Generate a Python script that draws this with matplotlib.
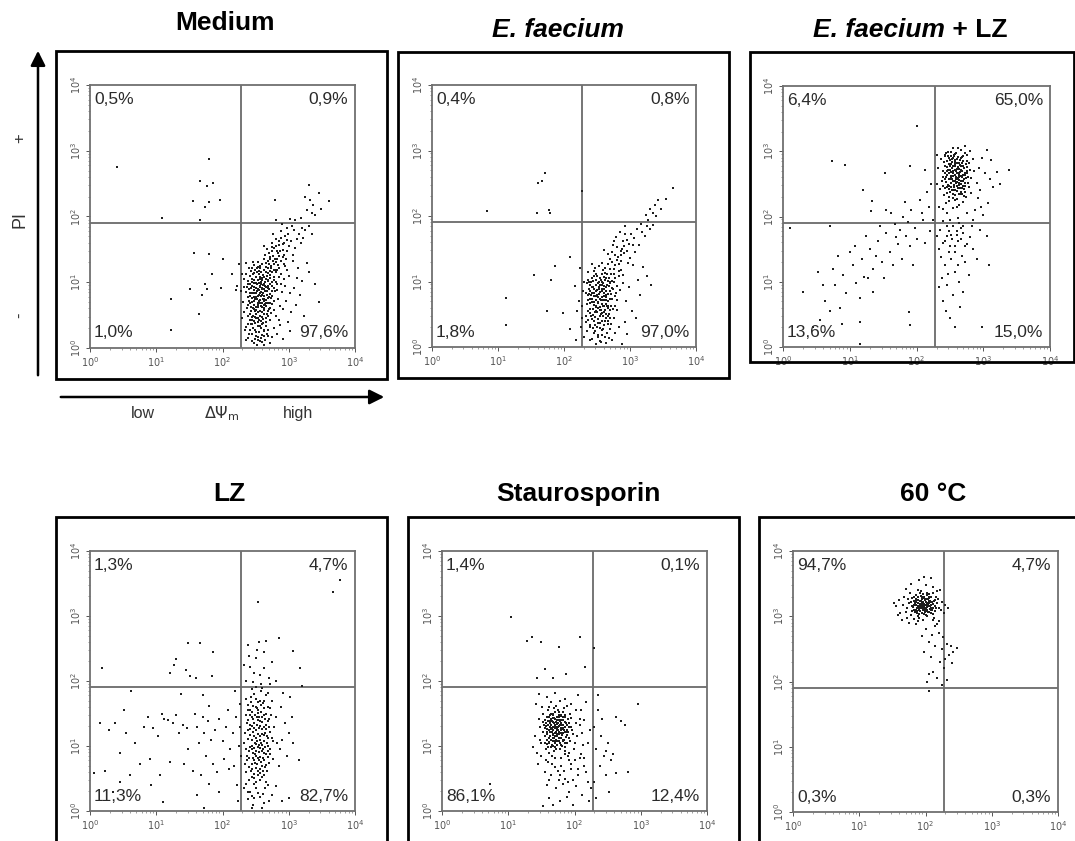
import numpy as np
import matplotlib
matplotlib.use("Agg")
import matplotlib.pyplot as plt
from matplotlib.patches import Rectangle
from matplotlib.ticker import LogLocator, NullFormatter

plt.rcParams['font.family'] = ['Liberation Sans', 'DejaVu Sans']

# quadrant gates (fluorescence units)
gate_x = 190
gate_y = 80

titles = ["Medium", "E. faecium", "E. faecium + LZ", "LZ", "Staurosporin", "60 \u00b0C"]
# quadrant percentages: UL, UR, LL, LR
percents = [
    ["0,5%", "0,9%", "1,0%", "97,6%"],
    ["0,4%", "0,8%", "1,8%", "97,0%"],
    ["6,4%", "65,0%", "13,6%", "15,0%"],
    ["1,3%", "4,7%", "11,3%", "82,7%"],
    ["1,4%", "0,1%", "86,1%", "12,4%"],
    ["94,7%", "4,7%", "0,3%", "0,3%"],
]

# events, (log10 DiOC6, log10 PI)
medium_pts = [
    (2.41,0.52),(2.47,0.88),(2.55,1.12),(2.62,0.71),(2.68,0.95),(2.44,1.05),(2.51,0.63),(2.58,0.41),(2.73,1.21),(2.66,1.30),
    (2.39,0.77),(2.49,1.19),(2.57,0.94),(2.63,0.58),(2.71,0.82),(2.78,1.04),(2.45,0.36),(2.53,0.79),(2.60,1.03),(2.69,0.49),
    (2.42,0.98),(2.50,0.45),(2.56,1.25),(2.64,0.86),(2.75,0.67),(2.81,1.15),(2.37,0.61),(2.48,0.71),(2.59,0.55),(2.67,1.09),
    (2.43,1.17),(2.52,0.97),(2.61,0.83),(2.70,1.27),(2.77,0.92),(2.84,0.74),(2.46,0.48),(2.54,0.66),(2.63,1.18),(2.72,0.61),
    (2.40,0.89),(2.50,1.08),(2.57,0.73),(2.65,0.40),(2.74,1.00),(2.86,1.22),(2.44,0.70),(2.55,0.88),(2.62,1.36),(2.68,0.76),
    (2.38,1.02),(2.47,0.59),(2.58,1.16),(2.66,0.64),(2.76,1.32),(2.82,0.88),(2.45,0.83),(2.53,1.31),(2.60,0.47),(2.71,1.06),
    (2.41,0.42),(2.51,0.92),(2.56,0.57),(2.64,1.01),(2.73,0.53),(2.79,1.18),(2.48,1.26),(2.55,0.99),(2.62,0.66),(2.69,1.14),
    (2.36,0.85),(2.46,1.12),(2.59,0.81),(2.67,0.52),(2.75,0.79),(2.88,0.98),(2.43,0.57),(2.52,0.74),(2.61,0.96),(2.70,0.89),
    (2.49,0.38),(2.57,1.05),(2.65,1.23),(2.78,0.58),(2.85,1.08),(2.40,1.21),(2.54,0.46),(2.63,0.74),(2.72,1.38),(2.58,0.64),
    (2.42,0.28),(2.51,0.19),(2.58,0.31),(2.64,0.12),(2.47,0.07),(2.55,0.24),(2.62,0.05),(2.69,0.27),(2.74,0.16),(2.39,0.15),
    (2.53,0.33),(2.60,0.20),(2.66,0.34),(2.45,0.22),(2.57,0.10),(2.71,0.08),(2.78,0.30),(2.49,0.13),(2.82,0.21),(2.36,0.32),
    (2.63,0.26),(2.52,0.04),(2.68,0.18),(2.44,0.11),(2.59,0.36),(2.87,0.35),(2.92,0.14),(3.02,0.26),
    (2.70,1.45),(2.78,1.52),(2.85,1.40),(2.91,1.58),(2.80,1.66),(2.95,1.70),(3.03,1.62),(2.88,1.78),(3.08,1.80),(3.15,1.74),
    (2.74,1.60),(2.83,1.35),(2.97,1.48),(3.05,1.86),(3.20,1.83),(2.67,1.50),(2.93,1.42),(3.00,1.55),(3.12,1.66),(2.86,1.62),
    (2.76,1.74),(3.25,1.79),(2.98,1.83),(3.10,1.52),(2.64,1.41),(2.90,1.88),(3.18,1.60),(2.82,1.47),(3.30,1.86),(2.72,1.36),
    (2.96,1.35),(3.07,1.42),(3.22,1.68),(2.62,1.55),(2.89,1.68),(3.35,1.74),
    (2.93,1.28),(3.01,1.10),(3.08,0.92),(2.96,0.72),(3.14,1.22),(3.04,0.55),(3.20,1.02),(2.99,0.40),(3.11,0.66),(3.27,1.30),
    (2.94,0.95),(3.06,1.33),(3.17,0.80),(3.31,1.15),(2.91,0.60),(3.23,0.48),(3.02,0.83),(3.40,0.98),(3.13,1.07),(2.97,1.19),
    (3.45,0.70),
    (2.30,0.45),(2.33,0.93),(2.29,1.12),(2.34,0.27),(2.31,0.70),(2.35,1.30),(2.32,0.55),(2.28,0.86),(2.35,0.12),(2.33,1.05),
    (2.25,1.28),(2.22,0.95),
    (2.79,2.25),(3.31,2.48),(3.45,2.36),(3.32,2.25),(3.37,2.17),(3.60,2.23),(3.27,2.10),(3.40,2.02),(3.18,1.98),(3.48,2.12),
    (3.10,1.95),(3.35,2.05),(2.80,1.94),(3.02,1.96),(3.24,2.30),
    (0.40,2.76),(1.79,2.87),(1.66,2.54),(1.76,2.46),(1.85,2.51),(1.56,2.23),(1.74,2.15),(1.79,2.22),(1.96,2.25),(1.66,1.94),
    (1.08,1.97),(1.57,1.44),(1.80,1.43),(2.01,1.36),(1.84,1.12),(2.14,1.12),(1.51,0.90),(1.77,0.90),(1.97,0.92),(1.69,0.80),
    (1.23,0.75),(1.65,0.52),(1.22,0.27),(2.21,0.88),(1.74,0.98),
]
medium_core = [
    (2.44,0.76),(2.52,0.86),(2.59,0.69),(2.65,0.93),(2.48,0.99),(2.39,0.66),(2.57,1.21),(2.61,0.44),(2.69,0.68),(2.46,1.31),
    (2.53,0.54),(2.71,0.97),(2.36,1.12),(2.55,0.72),(2.63,0.89),(2.50,0.83),(2.58,0.97),(2.43,0.63),(2.66,1.15),(2.74,0.87),
    (2.41,1.09),(2.49,0.56),(2.56,1.08),(2.62,0.51),(2.68,1.02),(2.77,0.71),(2.45,0.94),(2.54,0.62),(2.60,1.27),(2.67,0.81),
    (2.38,0.49),(2.47,1.03),(2.59,0.89),(2.64,0.67),(2.72,1.11),(2.51,0.77),(2.57,0.49),(2.42,0.84),(2.70,0.59),(2.81,1.01),
    (2.46,0.31),(2.55,0.43),(2.62,0.27),(2.50,0.24),(2.58,0.15),(2.44,0.42),(2.67,0.21),(2.39,0.37),(2.53,0.12),(2.61,0.38),
    (2.48,0.66),(2.56,0.93),(2.63,1.08),(2.69,0.92),(2.40,0.72),(2.52,1.16),(2.65,0.73),(2.75,1.16),(2.44,1.22),(2.58,0.79),
    (2.47,0.83),(2.54,1.04),(2.60,0.62),(2.73,0.76),(2.37,0.93),(2.49,0.47),(2.62,0.97),(2.68,0.56),(2.79,0.87),(2.55,0.81),
    (2.76,1.40),(2.84,1.26),(2.80,1.55),(2.88,1.33),(2.92,1.49),(2.69,1.33),(2.74,1.48),(2.86,1.57),(2.98,1.64),(2.94,1.24),
    (2.82,1.19),(2.89,1.12),(2.77,1.27),(2.83,0.97),(2.90,0.85),(2.87,0.64),(2.80,0.49),(2.93,1.05),(2.71,0.43),(2.85,0.42),
]
medium_dense = [
    (2.43,0.91),(2.49,0.74),(2.54,0.89),(2.61,1.11),(2.67,0.87),(2.46,0.61),(2.52,1.21),(2.58,0.85),(2.64,0.94),(2.71,1.17),
    (2.41,0.79),(2.47,1.14),(2.56,0.68),(2.62,0.79),(2.69,1.04),(2.44,0.47),(2.51,0.58),(2.59,1.07),(2.66,0.69),(2.74,0.95),
    (2.39,0.98),(2.48,0.93),(2.55,1.17),(2.63,0.61),(2.70,0.78),(2.45,1.01),(2.53,0.69),(2.60,0.91),(2.68,1.22),(2.77,1.08),
    (2.42,0.68),(2.50,0.99),(2.57,0.83),(2.65,1.05),(2.72,0.68),(2.47,0.78),(2.54,1.23),(2.61,0.75),(2.58,1.01),(2.51,0.51),
    (2.43,0.36),(2.49,0.27),(2.56,0.33),(2.63,0.19),(2.40,0.22),(2.54,0.17),(2.60,0.09),(2.47,0.41),(2.66,0.46),(2.53,0.39),
    (2.73,1.25),(2.79,1.36),(2.84,1.45),(2.81,1.31),(2.75,1.53),(2.87,1.48),(2.93,1.60),(2.78,1.19),(2.91,1.38),(2.99,1.73),
]

faecium_pts = [
    (2.36,0.72),(2.42,1.05),(2.48,0.55),(2.53,0.91),(2.59,1.18),(2.64,0.66),(2.70,0.98),(2.45,0.83),(2.51,0.42),(2.57,0.77),
    (2.62,1.02),(2.68,0.51),(2.75,1.12),(2.39,0.95),(2.47,1.20),(2.55,0.61),(2.60,0.88),(2.66,1.26),(2.73,0.74),(2.80,0.93),
    (2.34,0.48),(2.43,0.68),(2.50,1.09),(2.58,0.39),(2.63,0.80),(2.71,0.62),(2.78,1.25),(2.40,0.58),(2.49,0.86),(2.56,1.02),
    (2.61,0.53),(2.69,0.85),(2.76,0.45),(2.83,1.08),(2.37,1.14),(2.46,0.40),(2.54,0.74),(2.65,0.95),(2.72,1.30),(2.44,0.92),
    (2.52,0.60),(2.59,0.97),(2.67,0.70),(2.74,0.89),(2.38,0.81),(2.48,1.02),(2.56,0.50),(2.62,1.13),(2.70,0.57),(2.81,0.72),
    (2.41,0.47),(2.53,1.24),(2.60,0.71),(2.68,1.06),(2.77,0.63),(2.35,0.97),(2.45,0.64),(2.57,0.89),(2.64,0.44),(2.73,1.01),
    (2.50,0.79),(2.58,1.28),(2.66,0.59),(2.43,1.27),(2.55,0.36),(2.63,0.92),(2.79,0.82),(2.86,1.18),(2.40,0.73),(2.69,1.19),
    (2.35,0.25),(2.42,0.12),(2.50,0.30),(2.57,0.18),(2.63,0.06),(2.70,0.27),(2.46,0.21),(2.54,0.09),(2.61,0.33),(2.68,0.14),
    (2.77,0.22),(2.39,0.34),(2.48,0.04),(2.58,0.26),(2.66,0.35),(2.73,0.10),(2.84,0.30),(2.31,0.15),(2.95,0.20),(2.52,0.16),
    (2.88,0.05),
    (2.66,1.42),(2.74,1.55),(2.82,1.38),(2.88,1.50),(2.95,1.63),(2.79,1.68),(3.02,1.72),(3.10,1.80),(3.18,1.76),(3.25,1.85),
    (2.70,1.35),(2.91,1.44),(2.99,1.58),(3.06,1.66),(3.14,1.55),(2.85,1.76),(3.22,1.70),(2.61,1.48),(2.93,1.84),(3.30,1.80),
    (3.08,1.45),(2.76,1.62),(3.00,1.36),(3.17,1.88),(2.87,1.32),(3.35,1.86),
    (2.90,1.10),(2.98,0.92),(3.05,1.25),(2.94,0.70),(3.12,1.03),(3.20,1.22),(3.03,0.55),(2.92,0.38),(3.15,0.80),(3.26,1.08),
    (3.09,0.45),(2.97,1.28),(3.32,0.95),
    (2.28,0.62),(2.30,1.00),(2.26,0.30),(2.29,0.85),(2.24,1.20),(2.27,0.45),(2.22,0.70),(2.18,0.10),(2.20,0.55),
    (3.65,2.42),(3.30,2.11),(3.38,2.17),(3.43,2.24),(3.47,2.10),(3.54,2.26),(3.24,2.01),(3.35,2.05),(3.40,2.00),(3.28,1.94),
    (0.83,2.07),(1.71,2.66),(1.66,2.53),(1.60,2.50),(1.59,2.05),(1.78,2.09),(1.79,2.05),(2.27,2.38),(1.54,1.10),(1.86,1.23),
    (1.81,1.03),(2.09,1.37),(1.12,0.75),(1.12,0.33),(1.74,0.55),(1.98,0.52),(2.09,0.28),(2.17,0.93),
]
faecium_core = [
    (2.38,0.88),(2.44,0.58),(2.51,0.97),(2.57,0.65),(2.63,0.86),(2.69,0.73),(2.46,1.08),(2.53,0.81),(2.59,0.47),(2.66,1.01),
    (2.35,0.66),(2.41,0.99),(2.48,0.71),(2.55,0.94),(2.61,0.62),(2.72,0.90),(2.43,0.82),(2.50,0.53),(2.58,1.12),(2.64,0.76),
    (2.37,0.41),(2.45,1.16),(2.52,0.67),(2.60,0.82),(2.67,0.48),(2.75,0.99),(2.40,0.86),(2.49,0.95),(2.56,0.56),(2.62,1.21),
    (2.33,0.83),(2.47,0.46),(2.54,1.05),(2.65,0.63),(2.71,1.11),(2.42,0.74),(2.59,0.72),(2.68,0.93),(2.36,1.03),(2.53,0.88),
    (2.44,0.29),(2.51,0.19),(2.59,0.27),(2.65,0.22),(2.40,0.11),(2.56,0.08),(2.62,0.40),(2.47,0.33),(2.71,0.35),(2.34,0.38),
    (2.78,1.40),(2.84,1.27),(2.90,1.62),(2.81,1.52),(2.96,1.47),(2.73,1.45),(2.87,1.41),(2.93,1.72),(3.04,1.56),(2.83,1.16),
    (2.77,0.78),(2.85,0.87),(2.80,0.56),(2.89,0.98),(2.74,0.58),(2.45,0.78),(2.57,1.00),(2.48,0.61),(2.63,1.05),(2.39,0.52),
]
faecium_dense = [
    (2.39,0.67),(2.45,0.88),(2.51,0.69),(2.57,0.94),(2.63,0.71),(2.42,0.91),(2.48,0.63),(2.54,0.84),(2.60,1.07),(2.66,0.81),
    (2.37,0.55),(2.44,1.01),(2.50,0.87),(2.56,0.71),(2.62,0.57),(2.69,0.99),(2.41,0.79),(2.47,0.53),(2.53,0.99),(2.59,0.62),
    (2.65,1.12),(2.38,0.99),(2.46,0.69),(2.52,0.77),(2.58,0.85),(2.64,0.51),(2.71,0.81),(2.43,0.43),(2.49,1.12),(2.55,0.48),
    (2.61,0.93),(2.67,0.62),(2.36,0.79),(2.48,0.78),(2.54,0.57),(2.60,0.78),(2.44,0.49),(2.51,0.36),(2.58,0.52),(2.66,0.39),
    (2.40,0.31),(2.47,0.24),(2.55,0.29),(2.62,0.16),(2.69,0.45),(2.75,1.19),(2.80,1.33),(2.86,1.47),(2.78,1.05),(2.91,1.54),
]

faecium_lz_pts = [
    (2.42,2.95),(2.48,2.80),(2.55,2.62),(2.61,2.88),(2.67,2.71),(2.73,2.52),(2.45,2.45),(2.52,2.99),(2.58,2.40),(2.64,2.56),
    (2.70,2.93),(2.76,2.67),(2.40,2.70),(2.50,2.58),(2.57,2.84),(2.63,2.35),(2.69,2.47),(2.79,2.82),(2.44,2.20),(2.53,2.74),
    (2.60,2.66),(2.66,3.02),(2.72,2.38),(2.82,2.59),(2.38,2.55),(2.47,2.92),(2.56,2.49),(2.62,2.76),(2.68,2.60),(2.75,2.85),
    (2.41,2.33),(2.51,2.68),(2.59,2.98),(2.65,2.43),(2.71,2.74),(2.86,2.70),(2.46,2.63),(2.54,2.28),(2.61,2.53),(2.67,2.90),
    (2.74,2.30),(2.36,2.88),(2.49,2.42),(2.57,2.72),(2.63,2.64),(2.70,2.54),(2.78,2.45),(2.43,2.78),(2.52,2.51),(2.58,2.86),
    (2.66,2.34),(2.73,2.97),(2.84,2.88),(2.39,2.12),(2.48,2.30),(2.55,2.78),(2.62,3.05),(2.69,2.22),(2.77,2.60),(2.90,2.52),
    (2.44,2.97),(2.53,2.40),(2.60,2.14),(2.68,2.82),(2.75,2.70),(2.35,2.42),(2.50,2.86),(2.59,2.57),(2.65,2.68),(2.81,2.36),
    (2.46,2.05),(2.56,2.94),(2.64,2.18),(2.71,2.63),(2.93,2.75),(2.40,2.60),(2.57,2.25),(2.67,2.50),(2.80,3.00),(2.32,2.75),
    (2.95,2.40),(3.02,2.66),(3.10,2.58),(2.98,2.90),(3.07,2.20),(3.20,2.68),(3.38,2.72),(2.88,2.10),(3.00,2.02),(2.85,1.95),
    (2.92,2.28),(3.15,2.45),(3.05,3.02),(2.30,2.95),(2.33,2.15),(2.31,2.50),(2.72,3.08),(2.55,3.05),(3.25,2.50),(2.97,2.15),
    (2.62,1.98),(2.50,1.95),(2.76,2.05),(2.40,1.93),(3.12,2.86),
    (2.35,1.80),(2.45,1.70),(2.55,1.85),(2.62,1.62),(2.50,1.55),(2.70,1.75),(2.40,1.60),(2.58,1.45),(2.66,1.82),(2.75,1.58),
    (2.48,1.78),(2.33,1.50),(2.60,1.72),(2.80,1.68),(2.52,1.35),(2.42,1.25),(2.68,1.40),(2.38,1.05),(2.57,1.15),(2.73,1.30),
    (2.46,0.95),(2.63,1.00),(2.85,1.50),(2.30,1.70),(2.55,0.80),(2.40,0.70),(2.65,0.62),(2.50,0.45),(2.58,0.30),(2.70,0.85),
    (2.90,1.35),(3.05,1.70),(3.08,1.25),(2.95,1.80),(2.36,1.38),(2.78,1.10),(2.44,0.55),(2.62,1.25),(2.53,1.65),(2.72,1.55),
    (2.83,1.85),(2.47,1.12),(2.34,0.92),
    (0.55,0.42),(0.63,0.70),(0.70,0.55),(0.78,0.95),(0.85,0.60),(0.90,1.10),(0.95,0.82),(1.05,1.25),(1.10,0.98),(1.18,1.35),
    (1.22,1.08),(1.30,1.50),(1.35,1.20),(1.42,1.62),(1.48,1.30),(1.55,1.75),(1.60,1.45),(1.68,1.88),(1.72,1.58),(1.80,2.00),
    (1.85,1.70),(1.92,2.10),(1.98,1.82),(2.05,2.25),(2.10,1.95),(2.15,2.38),(2.20,1.78),(0.45,0.30),(0.60,0.95),(0.75,1.20),
    (0.88,0.35),(1.00,1.45),(1.15,0.75),(1.28,1.05),(1.40,1.40),(1.52,1.05),(1.65,1.25),(1.75,1.80),(1.90,1.55),(2.00,1.65),
    (2.12,1.60),(1.62,2.05),(1.45,1.85),(1.78,1.35),(1.88,1.92),(2.18,2.15),(1.25,1.70),(1.08,1.55),(0.82,1.40),(0.70,1.85),
    (0.30,0.85),(0.52,1.15),(1.95,1.25),(2.08,2.05),(1.70,1.68),(1.35,0.85),(2.22,2.50),(1.55,2.10),(1.83,2.22),(2.25,1.95),
    (0.73,2.85),(0.93,2.79),(2.00,3.38),(1.90,2.77),(1.53,2.67),(2.13,2.72),(1.20,2.41),(1.33,2.23),(1.32,2.08),(0.11,1.82),
    (1.15,0.05),(1.16,0.38),(1.90,0.33),(1.89,0.54),(2.98,0.31),
]
faecium_lz_core = [
    (2.47,2.72),(2.53,2.88),(2.59,2.61),(2.65,2.79),(2.71,2.58),(2.44,2.53),(2.50,2.77),(2.56,2.93),(2.62,2.44),(2.68,2.69),
    (2.74,2.80),(2.41,2.84),(2.49,2.46),(2.55,2.66),(2.61,2.82),(2.67,2.38),(2.73,2.63),(2.45,2.36),(2.52,2.60),(2.58,2.77),
    (2.64,2.51),(2.70,2.85),(2.77,2.52),(2.43,2.66),(2.51,2.93),(2.57,2.55),(2.63,2.73),(2.69,2.93),(2.48,2.23),(2.55,2.41),
    (2.61,2.27),(2.67,2.62),(2.39,2.47),(2.46,2.85),(2.54,2.70),(2.60,2.47),(2.66,2.77),(2.72,2.46),(2.80,2.72),(2.58,2.33),
    (2.42,2.58),(2.50,2.37),(2.62,2.91),(2.68,2.44),(2.76,2.94),(2.53,2.57),(2.47,2.99),(2.64,2.60),(2.59,2.69),(2.71,2.31),
    (2.55,2.13),(2.45,1.85),(2.60,1.78),(2.52,1.72),(2.66,1.66),(2.42,1.62),(2.57,1.55),(2.70,1.85),(2.49,1.45),(2.63,1.90),
]
faecium_lz_dense = [
    (2.45,2.76),(2.51,2.62),(2.57,2.81),(2.63,2.67),(2.69,2.78),(2.48,2.89),(2.54,2.54),(2.60,2.73),(2.66,2.55),(2.72,2.66),
    (2.44,2.61),(2.50,2.71),(2.56,2.45),(2.62,2.59),(2.68,2.91),(2.47,2.48),(2.53,2.83),(2.59,2.51),(2.65,2.86),(2.71,2.42),
    (2.42,2.92),(2.49,2.57),(2.55,2.89),(2.61,2.39),(2.67,2.71),(2.74,2.59),(2.46,2.69),(2.52,2.45),(2.58,2.64),(2.64,2.82),
    (2.70,2.64),(2.43,2.43),(2.57,2.96),(2.63,2.49),(2.76,2.76),(2.51,2.81),(2.60,2.58),(2.54,2.35),(2.68,2.34),(2.48,2.66),
]

lz_pts = [
    (2.35,1.72),(2.42,1.55),(2.48,1.80),(2.55,1.45),(2.61,1.66),(2.68,1.38),(2.38,1.25),(2.45,1.10),(2.52,1.32),(2.58,1.05),
    (2.64,1.20),(2.71,1.58),(2.40,0.92),(2.47,0.78),(2.53,0.98),(2.60,0.70),(2.66,0.88),(2.74,1.12),(2.36,0.60),(2.44,0.52),
    (2.50,0.66),(2.57,0.83),(2.63,0.55),(2.70,0.74),(2.39,1.40),(2.46,1.62),(2.54,1.18),(2.62,1.48),(2.69,1.00),(2.78,1.30),
    (2.33,1.05),(2.41,1.33),(2.49,1.48),(2.56,1.70),(2.65,1.78),(2.72,0.95),(2.37,0.78),(2.44,1.00),(2.51,0.85),(2.59,1.26),
    (2.67,0.62),(2.80,1.45),(2.43,1.75),(2.52,1.58),(2.60,1.90),(2.68,1.60),(2.34,1.20),(2.48,1.15),(2.57,0.58),(2.64,0.98),
    (2.76,0.80),(2.40,0.68),(2.55,1.02),(2.62,1.30),(2.71,1.22),(2.46,0.90),(2.53,1.40),(2.59,0.92),(2.66,1.50),(2.83,1.05),
    (2.38,1.55),(2.50,1.25),(2.58,1.52),(2.74,1.70),(2.44,0.64),(2.61,0.82),(2.36,0.95),(2.52,0.72),(2.69,1.12),(2.47,1.35),
    (2.35,0.42),(2.42,0.30),(2.50,0.45),(2.57,0.22),(2.64,0.35),(2.70,0.15),(2.46,0.10),(2.53,0.28),(2.60,0.05),(2.38,0.18),
    (2.68,0.40),(2.75,0.25),(2.32,0.35),(2.56,0.48),(2.48,0.20),(2.62,0.13),(2.80,0.38),(2.44,0.04),(2.90,0.15),(3.00,0.20),
    (2.88,1.60),(2.95,1.35),(3.02,1.75),(2.90,1.10),(3.05,1.45),(2.97,0.85),(2.86,0.70),(3.07,1.05),(2.92,1.82),(3.00,1.20),
    (2.87,0.95),(3.15,0.78),
    (2.20,1.45),(2.25,1.00),(2.18,0.70),(2.27,1.65),(2.22,0.40),(2.16,1.20),(2.28,0.85),(2.24,0.15),(2.19,1.85),(2.26,1.30),
    (2.35,2.00),(2.42,2.22),(2.50,2.35),(2.57,2.10),(2.63,2.45),(2.70,2.05),(2.38,2.55),(2.46,1.98),(2.55,2.60),(2.62,2.20),
    (2.75,2.30),(2.48,2.12),(2.66,2.62),(2.58,1.95),(2.40,2.38),(2.80,2.00),(2.52,2.48),(2.86,2.66),(3.07,2.46),(3.17,2.20),
    (2.54,3.22),(3.67,3.37),(3.78,3.55),(2.33,2.25),(2.72,1.96),(3.20,1.93),
    (0.18,2.20),(1.48,2.58),(1.66,2.58),(1.85,2.44),(1.30,2.34),(1.27,2.24),(1.21,2.12),(1.45,2.17),(1.51,2.08),(1.60,2.05),
    (1.84,2.08),
    (0.06,0.58),(0.22,0.62),(0.35,0.30),(0.28,1.25),(0.38,1.35),(0.45,0.90),(0.52,1.55),(0.60,0.55),(0.55,1.20),(0.68,1.05),
    (0.75,0.72),(0.82,1.30),(0.88,1.45),(0.95,1.28),(1.02,1.15),(1.08,1.50),(1.12,1.42),(1.18,1.40),(1.25,1.36),(1.30,1.48),
    (1.35,1.20),(1.40,1.32),(1.46,1.28),(1.20,0.75),(1.05,0.55),(0.90,0.80),(1.48,0.95),(1.42,0.72),(0.92,0.40),(1.10,0.14),
    (1.58,1.50),(1.62,1.30),(1.70,1.45),(1.72,1.20),(1.78,1.38),(1.82,1.10),(1.88,1.25),(1.95,1.42),(2.00,1.08),(2.05,1.30),
    (1.65,1.05),(1.75,0.85),(1.85,0.72),(1.92,0.60),(2.02,0.80),(2.10,0.65),(1.68,0.55),(1.80,0.42),(1.62,0.25),(1.95,0.30),
    (2.08,1.55),(1.70,1.78),(1.38,1.80),(1.80,1.62),(2.12,0.95),(1.55,0.62),(0.45,0.45),(0.15,1.35),(0.62,1.85),(1.72,0.05),
]
lz_core = [
    (2.39,1.63),(2.45,1.44),(2.51,1.72),(2.57,1.38),(2.63,1.59),(2.70,1.30),(2.42,1.17),(2.49,1.05),(2.55,1.27),(2.61,0.96),
    (2.67,1.16),(2.37,0.85),(2.44,0.73),(2.50,0.93),(2.56,0.64),(2.62,0.78),(2.71,0.87),(2.40,0.47),(2.47,0.57),(2.53,0.82),
    (2.59,0.53),(2.66,0.71),(2.36,1.47),(2.43,1.68),(2.54,1.55),(2.60,1.37),(2.68,1.81),(2.46,1.22),(2.52,1.08),(2.58,0.76),
    (2.64,1.42),(2.73,1.47),(2.41,0.99),(2.48,0.42),(2.57,1.15),(2.65,0.44),(2.38,0.30),(2.51,0.35),(2.61,0.26),(2.45,0.23),
    (2.54,0.61),(2.62,1.07),(2.69,0.83),(2.44,1.31),(2.50,1.60),(2.58,1.85),(2.76,1.08),(2.34,0.72),(2.47,0.97),(2.55,0.91),
]
lz_dense = [
    (2.41,1.48),(2.47,1.27),(2.53,1.51),(2.59,1.19),(2.65,1.33),(2.44,0.95),(2.50,1.13),(2.56,0.97),(2.62,1.17),(2.68,0.93),
    (2.39,1.11),(2.46,0.81),(2.52,1.45),(2.58,1.63),(2.64,0.67),(2.43,0.61),(2.49,0.74),(2.55,0.79),(2.61,0.61),(2.70,1.41),
    (2.37,1.36),(2.45,1.53),(2.51,1.03),(2.57,1.31),(2.63,0.89),(2.40,0.82),(2.48,0.51),(2.54,1.67),(2.60,1.02),(2.66,1.26),
    (2.42,1.26),(2.56,1.10),(2.49,0.87),(2.62,1.70),(2.53,0.55),(2.46,1.41),(2.59,1.45),(2.44,1.87),(2.51,1.91),(2.67,1.04),
]

stauro_pts = [
    (1.55,1.40),(1.62,1.25),(1.68,1.48),(1.74,1.15),(1.80,1.35),(1.86,1.05),(1.58,1.10),(1.65,0.98),(1.71,1.30),(1.77,1.52),
    (1.83,1.20),(1.90,1.42),(1.60,1.55),(1.67,1.18),(1.73,1.02),(1.79,1.28),(1.85,1.45),(1.92,1.12),(1.52,1.22),(1.63,1.35),
    (1.69,0.92),(1.76,1.40),(1.82,1.10),(1.95,1.30),(1.57,0.95),(1.64,1.50),(1.70,1.20),(1.78,0.96),(1.84,1.58),(1.88,1.25),
    (1.54,1.32),(1.61,1.05),(1.66,1.38),(1.72,1.62),(1.81,1.00),(1.98,1.18),(1.59,1.45),(1.68,1.08),(1.75,1.25),(1.87,1.35),
    (1.50,1.05),(1.62,1.60),(1.71,1.42),(1.79,1.12),(1.93,1.50),(1.56,1.28),(1.66,1.22),(1.74,1.34),(1.83,1.40),(2.00,1.05),
    (1.63,1.15),(1.70,1.05),(1.76,1.22),(1.67,1.30),(1.73,1.45),(1.60,1.32),(1.80,1.48),(1.69,1.58),(1.58,1.18),(1.85,0.98),
    (1.65,1.42),(1.72,1.10),(1.78,1.38),(1.62,0.90),(1.90,1.22),(1.53,1.50),(2.03,1.35),(1.75,1.55),(1.82,1.28),(1.68,1.00),
    (1.50,0.85),(1.60,0.75),(1.70,0.82),(1.80,0.70),(1.90,0.85),(2.00,0.78),(2.10,0.88),(1.55,0.60),(1.65,0.55),(1.75,0.62),
    (1.85,0.50),(1.95,0.65),(2.05,0.55),(2.15,0.70),(1.58,0.40),(1.72,0.35),(1.82,0.42),(1.92,0.30),(2.02,0.38),(2.20,0.45),
    (1.62,0.20),(1.78,0.15),(1.88,0.22),(1.98,0.10),(2.12,0.25),(1.52,0.08),(1.68,0.10),(2.22,0.15),(1.45,0.72),(2.08,0.82),
    (1.85,0.88),(1.97,0.48),(1.66,0.72),(2.18,0.60),(1.76,0.48),(1.92,0.78),(2.25,0.35),(1.43,0.90),
    (1.42,1.65),(1.48,1.30),(1.40,1.15),(1.38,0.98),(1.58,1.75),(1.70,1.82),(1.85,1.72),(1.95,1.65),(2.05,1.78),(2.10,1.55),
    (2.12,1.20),(2.15,1.40),(2.20,1.05),(2.18,1.68),(1.47,1.80),(2.08,1.32),(2.24,1.25),(1.78,1.70),
    (2.30,1.30),(2.32,0.95),(2.35,1.55),(2.38,0.70),(2.40,1.15),(2.45,0.85),(2.30,0.45),(2.33,0.20),(2.42,1.42),(2.50,1.05),
    (2.55,0.78),(2.48,0.55),(2.58,0.88),(2.63,0.58),(2.81,0.60),(2.63,1.45),(2.76,1.32),(2.96,1.65),(2.48,0.93),(2.36,1.78),
    (2.52,0.30),(2.70,1.38),
    (1.04,2.98),(1.29,2.62),(1.36,2.67),(1.49,2.60),(1.76,2.52),(2.08,2.67),(2.29,2.51),(1.55,2.19),(1.43,2.04),(1.68,2.04),
    (1.87,2.11),(2.16,2.22),(0.73,0.42),
]
stauro_core = [
    (1.57,1.36),(1.63,1.22),(1.69,1.43),(1.75,1.18),(1.81,1.32),(1.87,1.14),(1.59,1.03),(1.66,1.27),(1.72,1.37),(1.78,1.05),
    (1.84,1.24),(1.91,1.36),(1.61,1.44),(1.67,1.12),(1.73,1.28),(1.79,1.46),(1.86,1.29),(1.55,1.15),(1.64,1.09),(1.70,1.52),
    (1.77,1.31),(1.83,1.08),(1.94,1.43),(1.58,1.26),(1.65,1.33),(1.71,1.16),(1.76,1.44),(1.82,1.52),(1.89,1.05),(1.62,1.38),
    (1.68,1.24),(1.74,1.07),(1.80,1.20),(1.96,1.24),(1.53,1.37),(1.60,0.98),(1.72,0.95),(1.85,0.92),(1.99,0.95),(1.66,0.85),
    (1.79,0.82),(1.92,0.90),(1.57,0.78),(1.70,0.68),(1.84,0.62),(1.95,0.72),(2.06,0.65),(1.62,0.48),(1.78,0.55),(1.90,0.45),
    (2.04,1.15),(2.08,1.42),(2.13,1.02),(2.02,1.55),(1.48,1.10),(1.46,1.42),(1.51,1.60),(1.88,1.62),(1.64,1.68),(2.14,0.82),
]
stauro_dense = [
    (1.59,1.21),(1.64,1.39),(1.70,1.27),(1.75,1.36),(1.81,1.17),(1.86,1.37),(1.61,1.13),(1.67,1.43),(1.72,1.21),(1.77,1.13),
    (1.83,1.33),(1.89,1.17),(1.63,1.29),(1.68,1.17),(1.74,1.40),(1.79,1.24),(1.85,1.21),(1.91,1.29),(1.57,1.31),(1.66,1.02),
    (1.71,1.33),(1.76,1.07),(1.82,1.45),(1.88,1.32),(1.60,1.39),(1.65,1.21),(1.69,1.35),(1.73,1.19),(1.78,1.32),(1.84,1.10),
    (1.62,1.06),(1.67,1.49),(1.72,1.29),(1.77,1.47),(1.80,1.02),(1.86,1.48),(1.93,1.07),(1.56,1.05),(1.70,0.98),(1.75,1.30),
    (1.64,1.26),(1.69,1.13),(1.74,1.25),(1.79,1.40),(1.68,1.37),(1.63,1.47),(1.81,1.26),(1.87,1.22),(1.71,1.08),(1.77,1.19),
]

hot_pts = [
    (1.75,3.20),(1.82,3.10),(1.88,3.25),(1.94,3.05),(2.00,3.18),(2.06,3.30),(2.12,3.12),(1.78,3.02),(1.85,3.32),(1.91,3.15),
    (1.97,3.28),(2.03,3.00),(2.09,3.22),(2.15,3.08),(1.80,3.28),(1.87,3.05),(1.93,3.38),(1.99,3.10),(2.05,3.15),(2.11,3.35),
    (2.18,3.20),(1.72,3.12),(1.84,3.18),(1.90,2.98),(1.96,3.22),(2.02,3.35),(2.08,3.05),(2.14,3.25),(1.77,3.35),(1.83,2.96),
    (1.89,3.12),(1.95,3.30),(2.01,3.08),(2.07,3.24),(2.13,2.98),(2.20,3.12),(1.86,3.22),(1.92,3.08),(1.98,3.16),(2.04,3.26),
    (2.10,3.10),(1.79,3.15),(1.94,3.20),(2.00,3.02),(2.06,3.20),(1.88,3.40),(2.16,3.30),(1.82,3.24),(2.02,3.14),(1.96,2.95),
    (1.55,3.15),(1.60,3.25),(1.62,3.05),(1.68,3.30),(1.65,2.95),(1.70,3.42),(1.58,3.02),(1.52,3.20),(1.75,2.90),(1.78,3.50),
    (1.90,3.55),(2.00,3.48),(2.08,3.58),(1.85,2.88),(2.22,3.40),(2.25,3.22),(2.28,3.05),(2.30,3.18),(2.20,2.92),(2.12,3.45),
    (1.72,2.98),(2.24,3.10),(2.34,3.12),(1.98,3.60),(1.66,3.18),(2.18,2.88),
    (2.00,2.80),(2.10,2.72),(2.05,2.60),(2.20,2.75),(2.15,2.55),(1.98,2.45),(2.08,2.38),(2.25,2.50),(2.32,2.58),(2.38,2.55),
    (2.42,2.45),(2.48,2.52),(2.36,2.40),(2.28,2.20),(2.22,2.30),(2.12,2.15),(2.18,2.05),(2.03,2.00),(2.05,2.12),(2.25,1.95),
    (2.30,2.35),(2.40,2.28),(2.15,2.85),(2.26,2.68),(1.95,2.70),(2.32,2.02),(2.05,1.85),
]
hot_core = [
    (1.81,3.14),(1.86,3.27),(1.90,3.09),(1.95,3.18),(2.01,3.27),(2.07,3.11),(1.84,3.06),(1.89,3.20),(1.93,3.31),(1.98,3.04),
    (2.03,3.21),(2.09,3.29),(2.14,3.16),(1.78,3.22),(1.87,3.13),(1.92,3.24),(1.97,3.12),(2.02,3.32),(2.08,3.18),(2.12,3.03),
    (1.83,3.30),(1.88,3.01),(1.94,3.15),(1.99,3.25),(2.04,3.07),(2.10,3.22),(2.16,3.12),(1.80,3.08),(1.91,3.36),(2.00,3.13),
    (2.06,3.34),(1.85,3.17),(1.96,3.09),(2.05,3.28),(1.74,3.26),(2.19,3.26),(1.89,2.92),(2.11,2.95),(1.71,3.06),(2.17,3.38),
]
hot_dense = [
    (1.84,3.21),(1.89,3.15),(1.93,3.23),(1.97,3.19),(2.02,3.10),(2.07,3.16),(1.86,3.10),(1.91,3.19),(1.95,3.13),(2.00,3.22),
    (2.04,3.17),(2.09,3.13),(1.82,3.17),(1.88,3.29),(1.92,3.12),(1.98,3.29),(2.03,3.26),(2.08,3.09),(1.87,3.08),(1.94,3.26),
    (1.99,3.07),(2.05,3.23),(2.11,3.19),(1.90,3.04),(1.96,3.34),(2.01,3.17),(2.06,3.06),(1.85,3.25),(2.13,3.23),(1.93,3.17),
]

all_pts = [medium_pts + medium_core + medium_dense,
           faecium_pts + faecium_core + faecium_dense,
           faecium_lz_pts + faecium_lz_core + faecium_lz_dense,
           lz_pts + lz_core + lz_dense,
           stauro_pts + stauro_core + stauro_dense,
           hot_pts + hot_core + hot_dense]

W, H = 1075, 841
fig = plt.figure(figsize=(W / 100, H / 100), dpi=100)

def fbox(x0, y0, x1, y1):
    # pixel box (top-left origin) -> figure fraction rect
    return [x0 / W, 1 - y1 / H, (x1 - x0) / W, (y1 - y0) / H]

ax_px = [(90, 85, 355, 348), (432, 85, 696, 347), (783, 86, 1050, 347),
         (90, 551, 355, 811), (442, 551, 707, 811), (793, 551, 1058, 812)]
frame_px = [(56, 51, 387, 379), (398, 52, 729, 378), (750, 52, 1074, 362),
            (56, 517, 387, 848), (408, 517, 739, 848), (759, 517, 1080, 848)]
title_px = [(225, 23), (558, 30), (910, 30), (229, 494), (578, 494), (933, 494)]

ticklabs = [r'$10^{0}$', r'$10^{1}$', r'$10^{2}$', r'$10^{3}$', r'$10^{4}$']

fig.canvas.draw()
rend = fig.canvas.get_renderer()

for i in range(6):
    # outer frame
    x0, y0, x1, y1 = frame_px[i]
    fig.add_artist(Rectangle((x0 / W, 1 - y1 / H), (x1 - x0) / W, (y1 - y0) / H,
                             transform=fig.transFigure, fill=False, lw=2.0, ec='black'))

    ax = fig.add_axes(fbox(*ax_px[i]))
    pts = np.array(all_pts[i])
    ax.scatter(10 ** pts[:, 0], 10 ** pts[:, 1], s=2.5, marker='s', c='#1e1e1e',
               linewidths=0, zorder=3)
    ax.set_xscale('log')
    ax.set_yscale('log')
    ax.set_xlim(1, 1e4)
    ax.set_ylim(1, 1e4)
    ax.axvline(gate_x, color='#6a6a6a', lw=1.3, zorder=2)
    ax.axhline(gate_y, color='#6a6a6a', lw=1.3, zorder=2)
    for sp in ax.spines.values():
        sp.set_color('#707070')
        sp.set_linewidth(1.3)

    for axis in (ax.xaxis, ax.yaxis):
        axis.set_minor_locator(LogLocator(base=10, subs=np.arange(2, 10), numticks=20))
        axis.set_minor_formatter(NullFormatter())
    ax.set_xticks([1, 10, 100, 1000, 10000])
    ax.set_yticks([1, 10, 100, 1000, 10000])
    ax.set_xticklabels(ticklabs)
    ax.set_yticklabels(ticklabs, rotation=90, va='center')
    ax.tick_params(which='major', direction='out', length=3, width=0.7,
                   colors='#555555', labelsize=7, pad=2)
    ax.tick_params(which='minor', direction='out', length=1.5, width=0.5, colors='#777777')

    ul, ur, ll, lr = percents[i]
    kw = dict(transform=ax.transAxes, fontsize=12.5, color='#2a2a2a')
    ax.text(0.015, 0.975, ul, ha='left', va='top', **kw)
    ax.text(0.975, 0.975, ur, ha='right', va='top', **kw)
    ax.text(0.015, 0.04, ll, ha='left', va='baseline', **kw)
    ax.text(0.975, 0.04, lr, ha='right', va='baseline', **kw)

    tx, ty = title_px[i]
    if titles[i].startswith("E. faecium"):
        rest = titles[i][len("E. faecium"):]
        t1 = fig.text(tx / W, 1 - ty / H, "E. faecium", fontsize=19, fontweight='bold',
                      fontstyle='italic', ha='center', va='center')
        if rest:
            full = fig.text(0, 0, "E. faecium" + rest, fontsize=19, fontweight='bold')
            wfull = full.get_window_extent(rend).width
            full.remove()
            w1 = t1.get_window_extent(rend).width
            left = tx - wfull / 2
            t1.set_ha('left')
            t1.set_x(left / W)
            fig.text((left + w1) / W, 1 - ty / H, rest, fontsize=19, fontweight='bold',
                     ha='left', va='center')
    else:
        fig.text(tx / W, 1 - ty / H, titles[i], fontsize=19, fontweight='bold',
                 ha='center', va='center')

# axis direction arrows next to the first plot
ann_ax = fig.axes[0]
ann_ax.annotate('', xy=(38, H - 48), xytext=(38, H - 378), xycoords='figure pixels',
                textcoords='figure pixels',
                arrowprops=dict(arrowstyle='-|>', lw=1.8, color='black', mutation_scale=22))
ann_ax.annotate('', xy=(387, H - 397), xytext=(58, H - 397), xycoords='figure pixels',
                textcoords='figure pixels',
                arrowprops=dict(arrowstyle='-|>', lw=1.8, color='black', mutation_scale=22))
fig.text(20 / W, 1 - 220 / H, "PI", rotation=90, ha='center', va='center', fontsize=13, color='#333333')
fig.text(20 / W, 1 - 138 / H, "+", rotation=90, ha='center', va='center', fontsize=12, color='#333333')
fig.text(20 / W, 1 - 315 / H, "-", rotation=90, ha='center', va='center', fontsize=12, color='#333333')
fig.text(143 / W, 1 - 414 / H, "low", ha='center', va='center', fontsize=11.5, color='#333333')
fig.text(222 / W, 1 - 414 / H, r"$\Delta\Psi_\mathrm{m}$", ha='center', va='center', fontsize=11.5, color='#333333')
fig.text(298 / W, 1 - 414 / H, "high", ha='center', va='center', fontsize=11.5, color='#333333')

fig.savefig('out.png', dpi=100)
